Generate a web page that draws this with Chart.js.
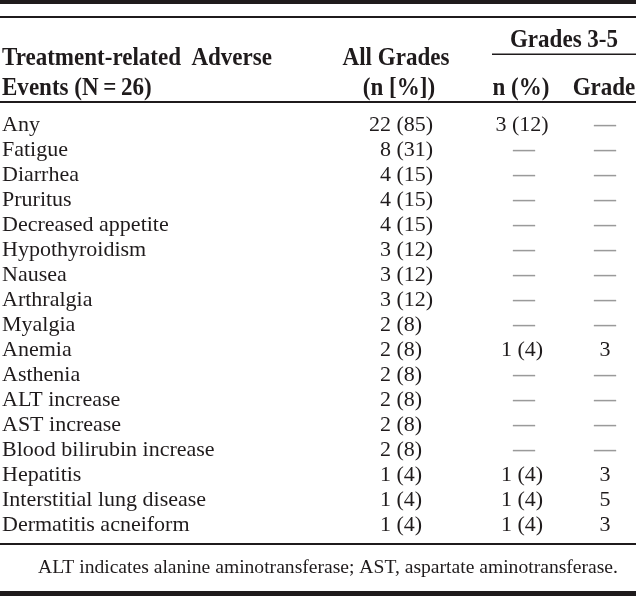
<!DOCTYPE html>
<html>
<head>
<meta charset="utf-8">
<script src="https://cdn.jsdelivr.net/npm/chart.js@4"></script>
<style>
  html, body { margin: 0; padding: 0; background: #fff; }
  #wrap { width: 636px; height: 596px; }
</style>
</head>
<body>
<div id="wrap"><canvas id="tbl" width="636" height="596"></canvas></div>
<script>
// Table data
const events = ['Any', 'Fatigue', 'Diarrhea', 'Pruritus', 'Decreased appetite', 'Hypothyroidism', 'Nausea',
  'Arthralgia', 'Myalgia', 'Anemia', 'Asthenia', 'ALT increase', 'AST increase', 'Blood bilirubin increase',
  'Hepatitis', 'Interstitial lung disease', 'Dermatitis acneiform'];
const allN   = [22, 8, 4, 4, 4, 3, 3, 3, 2, 2, 2, 2, 2, 2, 1, 1, 1];
const allPct = [85, 31, 15, 15, 15, 12, 12, 12, 8, 8, 8, 8, 8, 8, 4, 4, 4];
// null = no grade 3-5 event (shown as a dash)
const g35N   = [3, null, null, null, null, null, null, null, null, 1, null, null, null, null, 1, 1, 1];
const g35Pct = [12, null, null, null, null, null, null, null, null, 4, null, null, null, null, 4, 4, 4];
const g35Grade = [null, null, null, null, null, null, null, null, null, 3, null, null, null, null, 3, 5, 3];
const headers = {
  event: ['Treatment-related', 'Adverse', 'Events (N\u2009=\u200926)'],
  all: ['All Grades', '(n [%])'],
  group: 'Grades 3-5',
  n: 'n (%)',
  grade: 'Grade'
};
const footnote = 'ALT indicates alanine aminotransferase; AST, aspartate aminotransferase.';

// layout (x positions on the x scale, which runs 0..636)
const COL = { event: 2, eventEnd: 272, allSplit: 391, n: 522, grade: 605 };
const INK = '#1f1b1c';
const DASH = '#9a9a9a';
const BODY_FONT = '22px "Liberation Serif", "Times New Roman", serif';
const HEAD_FONT = 'bold 24.5px "Liberation Serif", "Times New Roman", serif';
const HEAD_SX = 0.94; // header type is a little condensed

const tablePlugin = {
  id: 'tablePlugin',
  afterDraw(chart){
    const ctx = chart.ctx;
    const x = chart.scales.x, y = chart.scales.y;
    const W = chart.width;
    ctx.save();

    // rules
    function rule(y0, h, x0, x1){ ctx.fillStyle = INK; ctx.fillRect(x0, y0, x1 - x0, h); }
    rule(0, 4, 0, W);
    rule(16, 2, 0, W);
    rule(53.5, 1.5, x.getPixelForValue(492), W);
    rule(101, 2, 0, W);
    rule(543, 2, 0, W);
    rule(591, 5, 0, W);

    // header (condensed bold)
    function head(txt, px, py, align){
      ctx.save();
      ctx.scale(HEAD_SX, 1);
      ctx.textAlign = align;
      ctx.fillText(txt, px / HEAD_SX, py);
      ctx.restore();
    }
    ctx.font = HEAD_FONT;
    ctx.fillStyle = INK;
    ctx.textBaseline = 'alphabetic';
    head(headers.event[0], x.getPixelForValue(COL.event), 65, 'left');
    head(headers.event[1], x.getPixelForValue(COL.eventEnd), 65, 'right');
    head(headers.event[2], x.getPixelForValue(COL.event), 95, 'left');
    head(headers.all[0], x.getPixelForValue(396), 65, 'center');
    head(headers.all[1], x.getPixelForValue(399), 95, 'center');
    head(headers.group, x.getPixelForValue(564), 47, 'center');
    head(headers.n, x.getPixelForValue(521), 95, 'center');
    head(headers.grade, x.getPixelForValue(604), 95, 'center');

    // body rows
    ctx.font = BODY_FONT;
    events.forEach((ev, i) => {
      const base = y.getPixelForValue(i) + 7.5;
      ctx.fillStyle = INK;
      ctx.textAlign = 'left';
      ctx.fillText(ev, x.getPixelForValue(COL.event), base);
      ctx.textAlign = 'right';
      ctx.fillText(String(allN[i]), x.getPixelForValue(COL.allSplit), base);
      ctx.textAlign = 'left';
      ctx.fillText(' (' + allPct[i] + ')', x.getPixelForValue(COL.allSplit), base);

      ctx.textAlign = 'center';
      if(g35N[i] === null){
        ctx.fillStyle = DASH;
        ctx.font = 'bold ' + BODY_FONT;
        ctx.fillText('\u2014', x.getPixelForValue(COL.n + 2), base);
        ctx.font = BODY_FONT;
      } else {
        ctx.fillText(g35N[i] + ' (' + g35Pct[i] + ')', x.getPixelForValue(COL.n), base);
      }
      if(g35Grade[i] === null){
        ctx.fillStyle = DASH;
        ctx.font = 'bold ' + BODY_FONT;
        ctx.fillText('\u2014', x.getPixelForValue(COL.grade), base);
        ctx.font = BODY_FONT;
      } else {
        ctx.fillStyle = INK;
        ctx.fillText(String(g35Grade[i]), x.getPixelForValue(COL.grade), base);
      }
    });

    // footnote
    ctx.font = '19.6px "Liberation Serif", "Times New Roman", serif';
    ctx.fillStyle = INK;
    ctx.textAlign = 'left';
    ctx.fillText(footnote, x.getPixelForValue(38), 573);
    ctx.restore();
  }
};

new Chart(document.getElementById('tbl'), {
  type: 'scatter',
  data: { labels: events, datasets: [] },
  options: {
    responsive: false,
    animation: false,
    layout: { padding: { top: 111.5, bottom: 60.5, left: 0, right: 0 } },
    scales: {
      x: { type: 'linear', min: 0, max: 636, display: false },
      y: { type: 'category', labels: events, offset: true, display: false }
    },
    plugins: { legend: { display: false }, tooltip: { enabled: false } }
  },
  plugins: [tablePlugin]
});
</script>
</body>
</html>
